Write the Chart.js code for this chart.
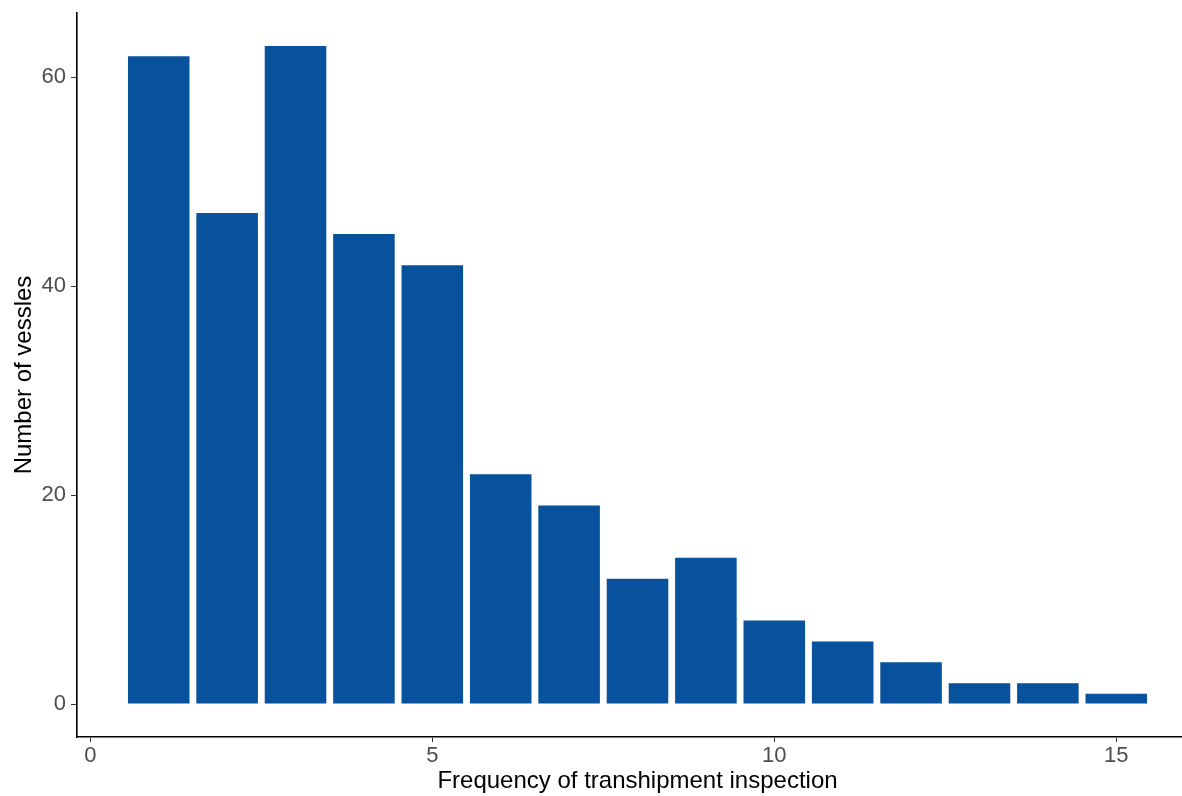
<!DOCTYPE html>
<html>
<head>
<meta charset="utf-8">
<script src="https://cdn.jsdelivr.net/npm/chart.js@4.4.1/dist/chart.umd.min.js"></script>
<style>
  html, body { margin: 0; padding: 0; background: #fff; overflow: hidden; }
  #wrap { width: 1198px; height: 796px; }
</style>
</head>
<body>
<div id="wrap"><canvas id="bar-chart"></canvas></div>
<script>
// frequency of inspection (x) and vessel counts (y)
const frequency = [1, 2, 3, 4, 5, 6, 7, 8, 9, 10, 11, 12, 13, 14, 15];
const vessels = [62, 47, 63, 45, 42, 22, 19, 12, 14, 8, 6, 4, 2, 2, 1];
const xTicks = [0, 5, 10, 15];
const yTicks = [0, 20, 40, 60];

const fontFamily = "'Liberation Sans', Arial, sans-serif";

const ctx = document.getElementById('bar-chart');
const barChart = new Chart(ctx, {
  type: 'bar',
  data: {
    datasets: [
      {
        label: 'Number of vessels',
        data: frequency.map((f, i) => ({ x: f, y: vessels[i] })),
        backgroundColor: '#08519c',
        borderWidth: 0,
        barPercentage: 0.9,
        categoryPercentage: 1.0,
      },
    ],
  },
  options: {
    responsive: true,
    maintainAspectRatio: false,
    animation: false,
    layout: { padding: { top: 13, right: 0, left: 0, bottom: 0 } },
    plugins: {
      legend: { display: false },
      tooltip: { enabled: false },
    },
    scales: {
      x: {
        type: 'linear',
        offset: false,
        min: -0.195,
        max: 16.195,
        afterBuildTicks: (scale) => { scale.ticks = xTicks.map(v => ({ value: v })); },
        afterFit: (scale) => {
          scale.height = 59;
          scale.paddingLeft = 0;
          scale.paddingRight = 0;
        },
        grid: { display: true, offset: false, drawOnChartArea: false, drawTicks: true, tickLength: 5, color: '#333', lineWidth: 1 },
        border: { display: true, color: '#000', width: 1.6 },
        ticks: { color: '#4d4d4d', font: { family: fontFamily, size: 22 }, padding: 1, maxRotation: 0 },
        title: {
          display: true,
          text: 'Frequency of transhipment inspection',
          color: '#000',
          font: { family: fontFamily, size: 24 },
          padding: { top: 0, bottom: 0 },
        },
      },
      y: {
        min: -3.15,
        max: 66.15,
        afterBuildTicks: (scale) => { scale.ticks = yTicks.map(v => ({ value: v })); },
        afterFit: (scale) => {
          scale.width = 77;
          scale.paddingTop = 0;
          scale.paddingBottom = 0;
        },
        grid: { display: true, drawOnChartArea: false, drawTicks: true, tickLength: 6, color: '#333', lineWidth: 1 },
        border: { display: true, color: '#000', width: 1.6 },
        ticks: { color: '#4d4d4d', font: { family: fontFamily, size: 22 }, padding: 5 },
        title: {
          display: true,
          text: 'Number of vessles',
          color: '#000',
          font: { family: fontFamily, size: 24 },
          padding: { top: 10, bottom: 0 },
        },
      },
    },
  },
});
</script>
</body>
</html>
